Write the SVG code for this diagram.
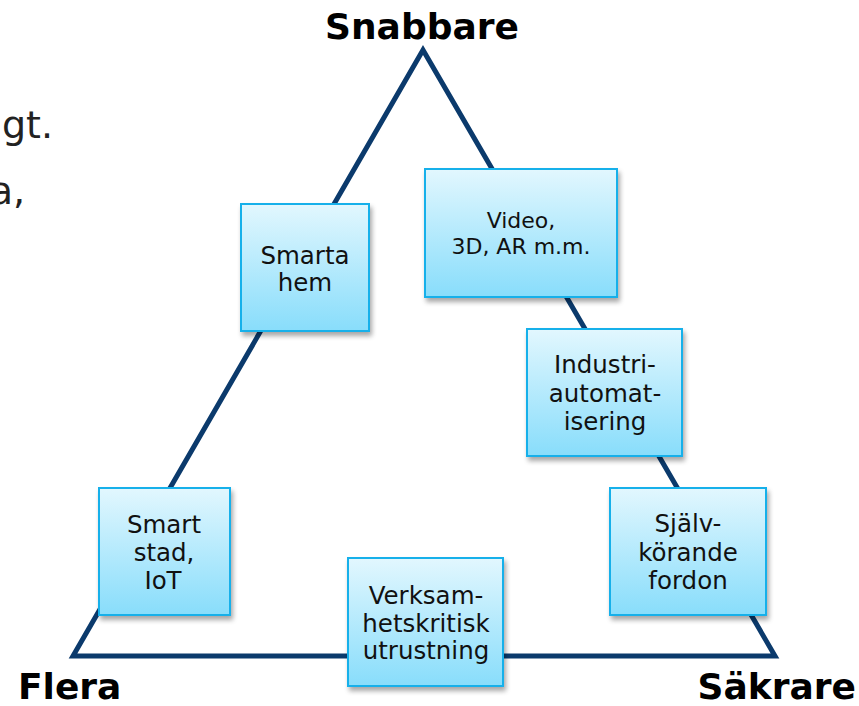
<svg xmlns="http://www.w3.org/2000/svg" width="859" height="706" viewBox="0 0 859 706">
<defs>
<linearGradient id="bg" x1="0" y1="0" x2="0" y2="1">
<stop offset="0" stop-color="#e2f7fe"/>
<stop offset="1" stop-color="#88ddfb"/>
</linearGradient>
<filter id="sh" x="-10%" y="-10%" width="130%" height="130%">
<feGaussianBlur in="SourceAlpha" stdDeviation="2.5"/>
<feOffset dx="2" dy="4" result="b"/>
<feComponentTransfer><feFuncA type="linear" slope="0.35"/></feComponentTransfer>
<feMerge><feMergeNode/><feMergeNode in="SourceGraphic"/></feMerge>
</filter>
</defs>
<style>
.box{fill:url(#bg);stroke:#19b0ea;stroke-width:2;filter:url(#sh)}
.t{font-family:"DejaVu Sans",Verdana,sans-serif;font-size:24.5px;fill:#111;text-anchor:middle}
.tv{font-size:22px}
.h{font-family:"DejaVu Sans",Verdana,sans-serif;font-weight:bold;font-size:36px;fill:#000}
.bg{font-family:"DejaVu Sans",Verdana,sans-serif;font-size:38px;fill:#222}
</style>
<rect width="859" height="706" fill="#fff"/>
<text class="bg" x="53" y="138" text-anchor="end">gt.</text>
<text class="bg" x="25" y="204" text-anchor="end">a,</text>
<g id="connectors">
<polygon points="423,50 73,656 775,656" fill="none" stroke="#0b3a6c" stroke-width="5" stroke-linejoin="miter"/>
</g>
<text class="h" x="422" y="39" text-anchor="middle" font-size="35">Snabbare</text>
<text class="h" x="18" y="699">Flera</text>
<text class="h" x="856" y="699" text-anchor="end">Säkrare</text>
<g id="smarta-hem">
<rect class="box" x="241" y="204" width="128" height="127"/>
<text class="t" x="305" y="264">Smarta</text>
<text class="t" x="305" y="291">hem</text>
</g>
<g id="video">
<rect class="box" x="425" y="169" width="192" height="128"/>
<text class="t tv" x="521" y="228">Video,</text>
<text class="t tv" x="521" y="254">3D, AR m.m.</text>
</g>
<g id="industri">
<rect class="box" x="527" y="329" width="155" height="127"/>
<text class="t" x="605" y="373">Industri-</text>
<text class="t" x="605" y="402">automat-</text>
<text class="t" x="605" y="430">isering</text>
</g>
<g id="sjalvkorande">
<rect class="box" x="610" y="488" width="156" height="127"/>
<text class="t" x="688" y="532">Själv-</text>
<text class="t" x="688" y="561">körande</text>
<text class="t" x="688" y="589">fordon</text>
</g>
<g id="smart-stad">
<rect class="box" x="99" y="488" width="131" height="127"/>
<text class="t" x="164" y="533">Smart</text>
<text class="t" x="164" y="561">stad,</text>
<text class="t" x="163" y="589">IoT</text>
</g>
<g id="verksamhet">
<rect class="box" x="348" y="558" width="155" height="128"/>
<text class="t" x="426" y="604">Verksam-</text>
<text class="t" x="426" y="632">hetskritisk</text>
<text class="t" x="426" y="659">utrustning</text>
</g>
</svg>
